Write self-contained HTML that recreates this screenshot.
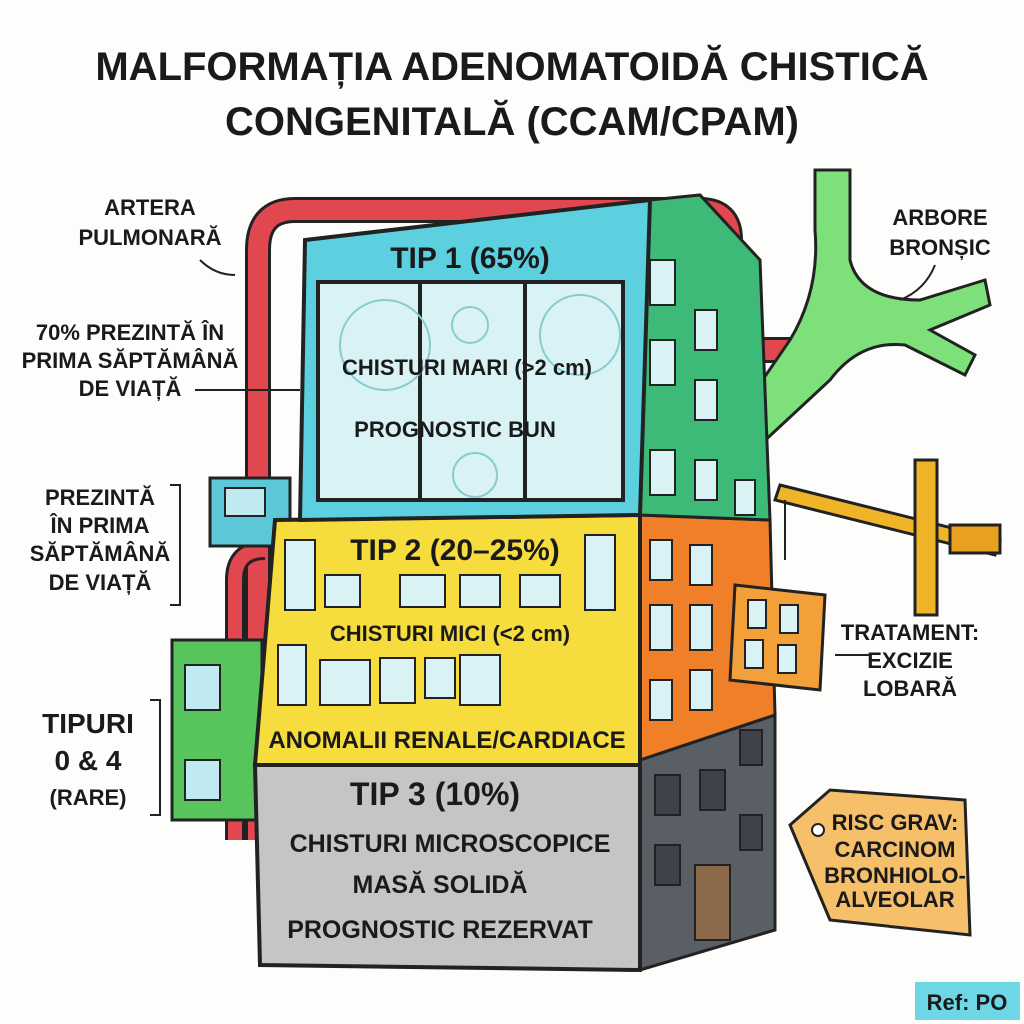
<!DOCTYPE html>
<html><head><meta charset="utf-8"><style>
html,body{margin:0;padding:0;background:#fff}
svg{display:block}
text{font-family:"Liberation Sans",sans-serif;font-weight:bold;fill:#1a1a1a}
</style></head><body>
<svg width="1024" height="1024" viewBox="0 0 1024 1024" xmlns="http://www.w3.org/2000/svg">
<rect width="1024" height="1024" fill="#fdfdfb"/>
<text x="512" y="80" font-size="40" text-anchor="middle">MALFORMAȚIA ADENOMATOIDĂ CHISTICĂ</text>
<text x="512" y="135" font-size="40" text-anchor="middle">CONGENITALĂ (CCAM/CPAM)</text>

<!-- left pipe -->
<path d="M258 840 L258 250 Q258 210 295 210 L700 210 Q730 210 730 240 L730 320 Q730 350 760 350 L795 350" fill="none" stroke="#222" stroke-width="26"/>
<path d="M258 840 L258 250 Q258 210 295 210 L700 210 Q730 210 730 240 L730 320 Q730 350 760 350 L795 350" fill="none" stroke="#e0474f" stroke-width="20"/>
<path d="M235 840 L235 580 Q235 550 265 550" fill="none" stroke="#222" stroke-width="20"/>
<path d="M235 840 L235 580 Q235 550 265 550" fill="none" stroke="#e0474f" stroke-width="14"/>

<!-- bronchi -->
<path d="M815 170 L850 170 L850 260 Q860 300 920 300 L985 280 L990 305 L930 330 L975 355 L965 375 L905 345 Q860 340 830 380 L760 445 L735 420 L790 340 Q820 290 815 230 Z" fill="#7ee07a" stroke="#222" stroke-width="3"/>

<!-- crane -->
<g stroke="#222" stroke-width="3" fill="#f0b429">
<path d="M780 485 L1000 540 L995 555 L775 500 Z"/>
<rect x="915" y="460" width="22" height="155"/>
<rect x="950" y="525" width="50" height="28" fill="#e7a020"/>
</g>
<line x1="785" y1="500" x2="785" y2="560" stroke="#222" stroke-width="2"/>

<!-- small left structures -->
<rect x="210" y="478" width="80" height="68" fill="#5cc7d6" stroke="#222" stroke-width="3"/>
<rect x="225" y="488" width="40" height="28" fill="#bfeaf0" stroke="#222" stroke-width="2"/>
<rect x="172" y="640" width="90" height="180" fill="#58c45c" stroke="#222" stroke-width="3"/>
<rect x="185" y="665" width="35" height="45" fill="#bfeaf0" stroke="#222" stroke-width="2"/>
<rect x="185" y="760" width="35" height="40" fill="#bfeaf0" stroke="#222" stroke-width="2"/>

<!-- Tip3 -->
<path d="M640 760 L775 715 L775 930 L640 970 Z" fill="#5a5f66" stroke="#222" stroke-width="3"/>
<path d="M255 765 L640 760 L640 970 L260 965 Z" fill="#c3c5c7" stroke="#222" stroke-width="4"/>
<rect x="695" y="865" width="35" height="75" fill="#8a6a4a" stroke="#222" stroke-width="2"/>
<!-- Tip2 -->
<path d="M640 515 L770 520 L775 715 L640 760 Z" fill="#f07f2a" stroke="#222" stroke-width="3"/>
<path d="M275 520 L640 515 L640 765 L255 765 Z" fill="#f7dc3e" stroke="#222" stroke-width="4"/>
<!-- Tip1 -->
<path d="M650 200 L700 195 L760 260 L770 520 L640 515 Z" fill="#3dba78" stroke="#222" stroke-width="3"/>
<path d="M305 240 L650 200 L640 515 L300 520 Z" fill="#5cd0df" stroke="#222" stroke-width="4"/>
<rect x="318" y="282" width="305" height="218" fill="#d8f2f6" stroke="#222" stroke-width="4"/>
<line x1="420" y1="282" x2="420" y2="500" stroke="#222" stroke-width="4"/>
<line x1="525" y1="282" x2="525" y2="500" stroke="#222" stroke-width="4"/>
<g fill="none" stroke="#8cc" stroke-width="2">
<circle cx="385" cy="345" r="45"/><circle cx="580" cy="335" r="40"/><circle cx="475" cy="475" r="22"/><circle cx="470" cy="325" r="18"/>
</g>
<g fill="#d8f2f6" stroke="#222" stroke-width="2">
<rect x="650" y="260" width="25" height="45"/><rect x="695" y="310" width="22" height="40"/><rect x="650" y="340" width="25" height="45"/><rect x="695" y="380" width="22" height="40"/><rect x="650" y="450" width="25" height="45"/><rect x="695" y="460" width="22" height="40"/><rect x="735" y="480" width="20" height="35"/>
<rect x="650" y="540" width="22" height="40"/><rect x="690" y="545" width="22" height="40"/><rect x="650" y="605" width="22" height="45"/><rect x="690" y="605" width="22" height="45"/><rect x="650" y="680" width="22" height="40"/><rect x="690" y="670" width="22" height="40"/>
<rect x="285" y="540" width="30" height="70"/><rect x="585" y="535" width="30" height="75"/>
<rect x="325" y="575" width="35" height="32"/><rect x="400" y="575" width="45" height="32"/><rect x="460" y="575" width="40" height="32"/><rect x="520" y="575" width="40" height="32"/>
<rect x="278" y="645" width="28" height="60"/><rect x="320" y="660" width="50" height="45"/><rect x="380" y="658" width="35" height="45"/><rect x="425" y="658" width="30" height="40"/><rect x="460" y="655" width="40" height="50"/>
</g>
<g fill="#3f4248" stroke="#222" stroke-width="2">
<rect x="655" y="775" width="25" height="40"/><rect x="700" y="770" width="25" height="40"/><rect x="655" y="845" width="25" height="40"/><rect x="740" y="730" width="22" height="35"/><rect x="740" y="815" width="22" height="35"/>
</g>
<!-- hanging building -->
<path d="M735 585 L825 595 L820 690 L730 680 Z" fill="#f2a03a" stroke="#222" stroke-width="3"/>
<g fill="#d8f2f6" stroke="#222" stroke-width="2"><rect x="748" y="600" width="18" height="28"/><rect x="780" y="605" width="18" height="28"/><rect x="745" y="640" width="18" height="28"/><rect x="778" y="645" width="18" height="28"/></g>

<!-- tag -->
<path d="M790 825 L830 790 L965 800 L970 935 L830 920 Z" fill="#f6c06a" stroke="#222" stroke-width="3"/>
<circle cx="818" cy="830" r="6" fill="#fff" stroke="#222" stroke-width="2"/>
<g font-size="22" text-anchor="middle">
<text x="895" y="830">RISC GRAV:</text><text x="895" y="857">CARCINOM</text><text x="895" y="883">BRONHIOLO-</text><text x="895" y="907">ALVEOLAR</text>
</g>

<!-- building texts -->
<text x="470" y="268" font-size="30" text-anchor="middle">TIP 1 (65%)</text>
<text x="467" y="375" font-size="22" text-anchor="middle">CHISTURI MARI (&gt;2 cm)</text>
<text x="455" y="437" font-size="22" text-anchor="middle">PROGNOSTIC BUN</text>
<text x="455" y="560" font-size="30" text-anchor="middle">TIP 2 (20–25%)</text>
<text x="450" y="641" font-size="22" text-anchor="middle">CHISTURI MICI (&lt;2 cm)</text>
<text x="447" y="748" font-size="24" text-anchor="middle">ANOMALII RENALE/CARDIACE</text>
<text x="435" y="805" font-size="32" text-anchor="middle">TIP 3 (10%)</text>
<text x="450" y="852" font-size="25" text-anchor="middle">CHISTURI MICROSCOPICE</text>
<text x="440" y="893" font-size="25" text-anchor="middle">MASĂ SOLIDĂ</text>
<text x="440" y="938" font-size="25" text-anchor="middle">PROGNOSTIC REZERVAT</text>

<!-- left labels -->
<g font-size="22" text-anchor="middle">
<text x="150" y="215">ARTERA</text><text x="150" y="245">PULMONARĂ</text>
<text x="130" y="340">70% PREZINTĂ ÎN</text><text x="130" y="368">PRIMA SĂPTĂMÂNĂ</text><text x="130" y="396">DE VIAȚĂ</text>
<text x="100" y="505">PREZINTĂ</text><text x="100" y="533">ÎN PRIMA</text><text x="100" y="561">SĂPTĂMÂNĂ</text><text x="100" y="590">DE VIAȚĂ</text>
<text x="88" y="733" font-size="28">TIPURI</text><text x="88" y="770" font-size="28">0 &amp; 4</text><text x="88" y="805">(RARE)</text>
<text x="940" y="225">ARBORE</text><text x="940" y="255">BRONȘIC</text>
<text x="910" y="640">TRATAMENT:</text><text x="910" y="668">EXCIZIE</text><text x="910" y="696">LOBARĂ</text>
</g>
<g fill="none" stroke="#222" stroke-width="2">
<path d="M200 260 Q215 275 235 275"/><path d="M195 390 L300 390"/><path d="M170 485 L180 485 L180 605 L170 605"/><path d="M150 700 L160 700 L160 815 L150 815"/>
<path d="M935 265 Q925 290 900 300"/><path d="M870 655 L835 655"/>
</g>
<rect x="915" y="982" width="105" height="38" fill="#6fd6e6"/>
<text x="967" y="1010" font-size="22" text-anchor="middle">Ref: PO</text>
</svg>
</body></html>
